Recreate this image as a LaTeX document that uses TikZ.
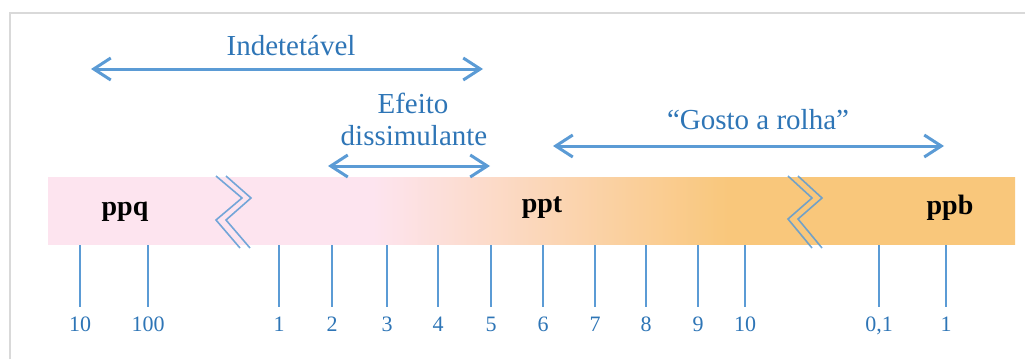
\documentclass[tikz,border=0pt]{standalone}
\usepackage{fontspec}
\setmainfont{Liberation Serif}
\usetikzlibrary{arrows.meta}

\definecolor{arrowblue}{HTML}{5B9BD5}
\definecolor{textblue}{HTML}{2E75B6}
\definecolor{barpink}{HTML}{FDE4EF}
\definecolor{barorange}{HTML}{F9C77B}
\definecolor{framegray}{HTML}{D9D9D9}

% pink on the left third, blending into orange, orange on the right
% (the path is mapped onto the middle 25bp--75bp of the shading)
\pgfdeclarehorizontalshading{barshade}{100bp}{%
  color(0bp)=(barpink); color(41.8bp)=(barpink);
  color(60.3bp)=(barorange); color(100bp)=(barorange)}

\tikzset{
  spanarrow/.style={arrowblue, line width=3pt,
    {Straight Barb[length=17pt,width=22pt]}-{Straight Barb[length=17pt,width=22pt]}},
  spanlabel/.style={text=textblue, font=\fontsize{29}{33}\selectfont,
    anchor=base, inner sep=0pt, align=center},
  unitlabel/.style={text=black, font=\fontsize{28}{32}\selectfont\bfseries,
    anchor=base, inner sep=0pt},
  tickmark/.style={arrowblue, line width=1.6pt},
  ticklabel/.style={text=textblue, font=\fontsize{22}{24}\selectfont,
    anchor=base, inner sep=0pt},
  breakline/.style={arrowblue, line width=1.6pt, opacity=0.85, line join=miter},
  framerule/.style={framegray, line width=2pt}
}

\begin{document}
\begin{tikzpicture}[x=1pt,y=-1pt]
\useasboundingbox (0,0) rectangle (1025,359);

% outer frame (only top and left edges fall inside the page)
\draw[framerule] (10,359) -- (10,13) -- (1025,13);

% concentration bar
\shade[shading=barshade] (48,177) rectangle (1015,244);

% scale breaks
\draw[breakline] (216,176) -- (242,198) -- (216,220) -- (240,248);
\draw[breakline] (226,176) -- (251,198) -- (226,220) -- (250,248);
\draw[breakline] (788,176) -- (812,198) -- (788,219) -- (812,248);
\draw[breakline] (798,176) -- (822,198) -- (798,219) -- (822,248);

% unit names
\node[unitlabel] (ppq) at (125,215) {ppq};
\node[unitlabel] (ppt) at (542,212) {ppt};
\node[unitlabel] (ppb) at (950,214) {ppb};

% ticks and their values
\foreach \x/\lab [count=\i] in {80/10,148/100,279/1,332/2,387/3,438/4,491/5,
    543/6,595/7,646/8,698/9,745/10,879/{0,1},946/1} {
  \coordinate (tick\i) at (\x,245);
  \coordinate (tickend\i) at (\x,307);
  \node[ticklabel] (val\i) at (\x,331) {\lab};
  \draw[tickmark] (tick\i) -- (tickend\i);
}

% ranges
\node[spanlabel] (indet) at (291,55) {Indetetável};
\coordinate (indet-l) at (91,69);
\coordinate (indet-r) at (483,69);
\draw[spanarrow] (indet-l) -- (indet-r);

\node[spanlabel] (efeito) at (413,113) {Efeito};
\node[spanlabel] (dissim) at (414,145) {dissimulante};
\coordinate (efeito-l) at (328,166);
\coordinate (efeito-r) at (490,166);
\draw[spanarrow] (efeito-l) -- (efeito-r);

\node[spanlabel] (gosto) at (758,129) {“Gosto a rolha”};
\coordinate (gosto-l) at (553,146);
\coordinate (gosto-r) at (944,146);
\draw[spanarrow] (gosto-l) -- (gosto-r);
\end{tikzpicture}
\end{document}
